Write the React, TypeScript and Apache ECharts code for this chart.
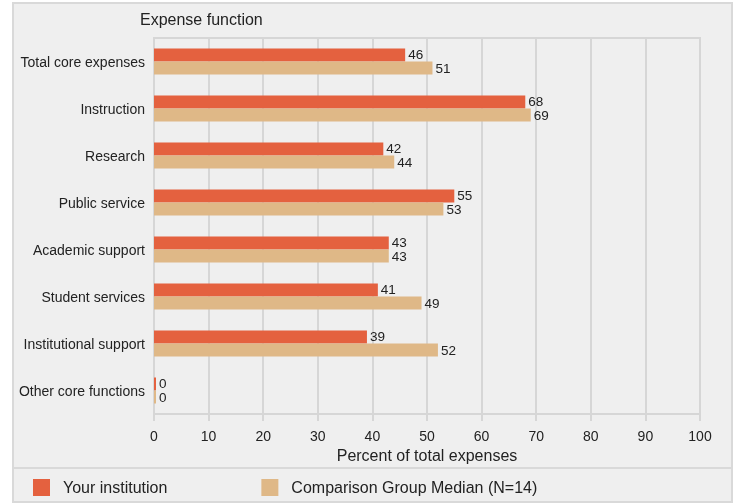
import React, { useEffect, useRef } from "react";
import * as echarts from "echarts";

const categories = [
  "Total core expenses",
  "Instruction",
  "Research",
  "Public service",
  "Academic support",
  "Student services",
  "Institutional support",
  "Other core functions",
];
const yourInstitution = [46, 68, 42, 55, 43, 41, 39, 0];
const comparisonMedian = [51, 69, 44, 53, 43, 49, 52, 0];
const seriesNames = ["Your institution", "Comparison Group Median (N=14)"];

const FONT = "Liberation Sans, Arial, sans-serif";

export default function App() {
  const ref = useRef<HTMLDivElement>(null);
  useEffect(() => {
    if (!ref.current) return;
    const chart = echarts.init(ref.current, null, { renderer: "svg" });
    const gridColor = "#d6d6d6";
    const labelStyle = (dy: number) => ({
      show: true,
      position: "right" as const,
      distance: 3,
      offset: [0, dy],
      color: "#222",
      fontSize: 13.5,
      lineHeight: 12,
      fontFamily: FONT,
    });
    chart.setOption({
      animation: false,
      textStyle: { fontFamily: FONT },
      graphic: [
        {
          type: "rect",
          z: -10,
          shape: { x: 13, y: 3, width: 719, height: 499 },
          style: { fill: "#efefef", stroke: "#d9d9d9", lineWidth: 2 },
        },
        {
          type: "line",
          z: -9,
          shape: { x1: 13, y1: 468, x2: 732, y2: 468 },
          style: { stroke: "#d9d9d9", lineWidth: 2 },
        },
        {
          type: "text",
          x: 140,
          y: 11,
          style: { text: "Expense function", fill: "#222", font: `16px ${FONT}` },
        },
      ],
      legend: {
        left: 33,
        top: 479,
        padding: 0,
        itemWidth: 17,
        itemHeight: 17,
        itemGap: 94,
        icon: "rect",
        textStyle: { fontSize: 16, color: "#222", fontFamily: FONT, padding: [0, 0, 0, 8] },
        data: seriesNames,
      },
      grid: {
        left: 154,
        right: 39,
        top: 38,
        bottom: 90,
        show: true,
        borderColor: gridColor,
        borderWidth: 2,
        backgroundColor: "transparent",
      },
      xAxis: {
        type: "value",
        min: 0,
        max: 100,
        interval: 10,
        name: "Percent of total expenses",
        nameLocation: "middle",
        nameGap: 33,
        nameTextStyle: { fontSize: 16, color: "#222", fontFamily: FONT },
        axisLine: { show: true, lineStyle: { color: gridColor, width: 2 } },
        axisTick: { show: true, length: 7, lineStyle: { color: gridColor, width: 2 } },
        splitLine: { show: true, lineStyle: { color: gridColor, width: 2 } },
        axisLabel: { fontSize: 14, color: "#222", margin: 15, fontFamily: FONT },
      },
      yAxis: {
        type: "category",
        inverse: true,
        data: categories,
        axisLine: { show: false },
        axisTick: { show: false },
        splitLine: { show: false },
        axisLabel: { fontSize: 14, color: "#222", margin: 9, fontFamily: FONT },
      },
      series: [
        {
          name: seriesNames[0],
          type: "bar",
          data: yourInstitution,
          barWidth: 13,
          barGap: "0%",
          barMinHeight: 2,
          itemStyle: { color: "#e4613f" },
          label: labelStyle(-0.5),
        },
        {
          name: seriesNames[1],
          type: "bar",
          data: comparisonMedian,
          barWidth: 13,
          barGap: "0%",
          barMinHeight: 2,
          itemStyle: { color: "#dfb887" },
          label: labelStyle(0.5),
        },
      ],
    });
    return () => chart.dispose();
  }, []);
  return (
    <div
      ref={ref}
      style={{ position: "fixed", left: 0, top: 0, width: 739, height: 504 }}
    />
  );
}
